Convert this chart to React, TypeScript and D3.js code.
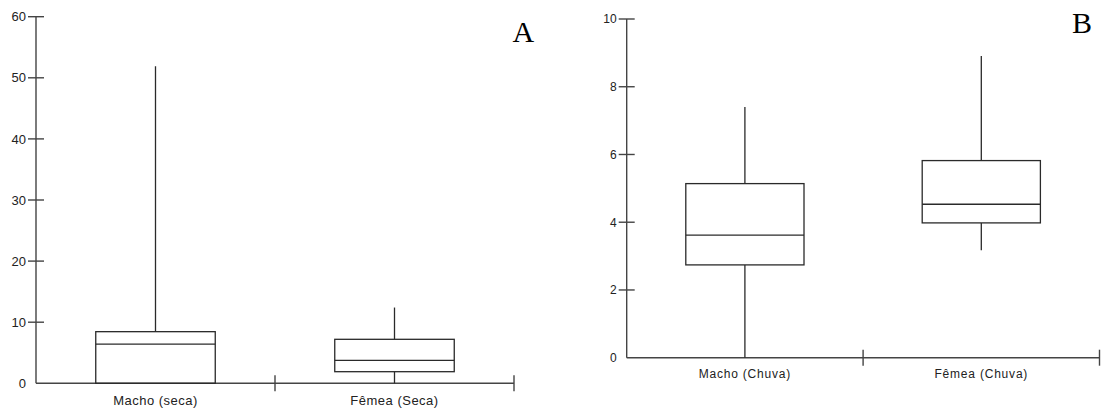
import React from "react";
import * as d3 from "d3";

// Panel A (seca)
const catsA = ["Macho (seca)", "Fêmea (Seca)"];
const minA = [0, 0];
const q1A = [0, 1.9];
const medA = [6.4, 3.75];
const q3A = [8.45, 7.2];
const maxA = [51.9, 12.4];
const ticksA = [0, 10, 20, 30, 40, 50, 60];

// Panel B (chuva)
const catsB = ["Macho (Chuva)", "Fêmea (Chuva)"];
const minB = [0, 3.17];
const q1B = [2.74, 3.98];
const medB = [3.62, 4.53];
const q3B = [5.14, 5.82];
const maxB = [7.4, 8.91];
const ticksB = [0, 2, 4, 6, 8, 10];

type PanelProps = {
  cats: string[];
  mins: number[];
  q1s: number[];
  meds: number[];
  q3s: number[];
  maxs: number[];
  ticks: number[];
  x0: number;
  x1: number;
  yBottom: number;
  yTop: number;
  fontSize: number;
  letterSpacing: number;
  letter: string;
  letterX: number;
  letterY: number;
  labelY: number;
};

function Panel(p: PanelProps) {
  const yMax = p.ticks[p.ticks.length - 1];
  const y = d3.scaleLinear().domain([0, yMax]).range([p.yBottom, p.yTop]);
  const x = d3.scaleBand<string>().domain(p.cats).range([p.x0, p.x1]).paddingInner(0).paddingOuter(0);
  const bw = x.bandwidth() * 0.5;
  const axisColor = "#444";
  const boxColor = "#2a2a2a";
  const bandEdges = p.cats.map((c) => (x(c) as number) + x.bandwidth());
  return (
    <g>
      {/* y axis */}
      <line x1={p.x0} x2={p.x0} y1={y(0)} y2={y(yMax)} stroke={axisColor} strokeWidth={1.4} />
      {p.ticks.map((t) => (
        <g key={t}>
          {t !== 0 && (
            <line x1={p.x0 - 8} x2={p.x0 + 8} y1={y(t)} y2={y(t)} stroke={axisColor} strokeWidth={1.4} />
          )}
          <text
            x={p.x0 - 10}
            y={y(t)}
            dy="0.36em"
            textAnchor="end"
            fontFamily="Liberation Sans, Arial, sans-serif"
            fontSize={p.fontSize}
            fill="#222"
          >
            {t}
          </text>
        </g>
      ))}
      {/* x axis */}
      <line x1={p.x0} x2={p.x1} y1={y(0)} y2={y(0)} stroke={axisColor} strokeWidth={1.4} />
      {bandEdges.map((e, i) => (
        <line key={i} x1={e} x2={e} y1={y(0) - 8} y2={y(0) + 8} stroke={axisColor} strokeWidth={1.4} />
      ))}
      {p.cats.map((c, i) => {
        const cx = (x(c) as number) + x.bandwidth() / 2;
        return (
          <g key={c}>
            {/* whiskers */}
            <line x1={cx} x2={cx} y1={y(p.q3s[i])} y2={y(p.maxs[i])} stroke={boxColor} strokeWidth={1.3} />
            <line x1={cx} x2={cx} y1={y(p.q1s[i])} y2={y(p.mins[i])} stroke={boxColor} strokeWidth={1.3} />
            <rect
              x={cx - bw / 2}
              y={y(p.q3s[i])}
              width={bw}
              height={y(p.q1s[i]) - y(p.q3s[i])}
              fill="none"
              stroke={boxColor}
              strokeWidth={1.3}
            />
            <line x1={cx - bw / 2} x2={cx + bw / 2} y1={y(p.meds[i])} y2={y(p.meds[i])} stroke={boxColor} strokeWidth={1.3} />
            <text
              x={cx}
              y={p.labelY}
              dy="0.36em"
              textAnchor="middle"
              fontFamily="Liberation Sans, Arial, sans-serif"
              fontSize={p.fontSize}
              letterSpacing={p.letterSpacing}
              fill="#222"
            >
              {c}
            </text>
          </g>
        );
      })}
      <text x={p.letterX} y={p.letterY} fontFamily="Liberation Serif, Times New Roman, serif" fontSize={30} fill="#000">
        {p.letter}
      </text>
    </g>
  );
}

export default function App() {
  return (
    <svg
      width={1105}
      height={410}
      style={{ position: "absolute", left: 0, top: 0, background: "#fff" }}
    >
      <Panel
        cats={catsA}
        mins={minA}
        q1s={q1A}
        meds={medA}
        q3s={q3A}
        maxs={maxA}
        ticks={ticksA}
        x0={36}
        x1={514}
        yBottom={383.3}
        yTop={16.7}
        fontSize={13}
        letterSpacing={0.5}
        letter="A"
        letterX={512.5}
        letterY={42.3}
        labelY={400}
      />
      <Panel
        cats={catsB}
        mins={minB}
        q1s={q1B}
        meds={medB}
        q3s={q3B}
        maxs={maxB}
        ticks={ticksB}
        x0={626.7}
        x1={1099.5}
        yBottom={357.7}
        yTop={19}
        fontSize={12}
        letterSpacing={0.8}
        letter="B"
        letterX={1072}
        letterY={33.3}
        labelY={373.5}
      />
    </svg>
  );
}
